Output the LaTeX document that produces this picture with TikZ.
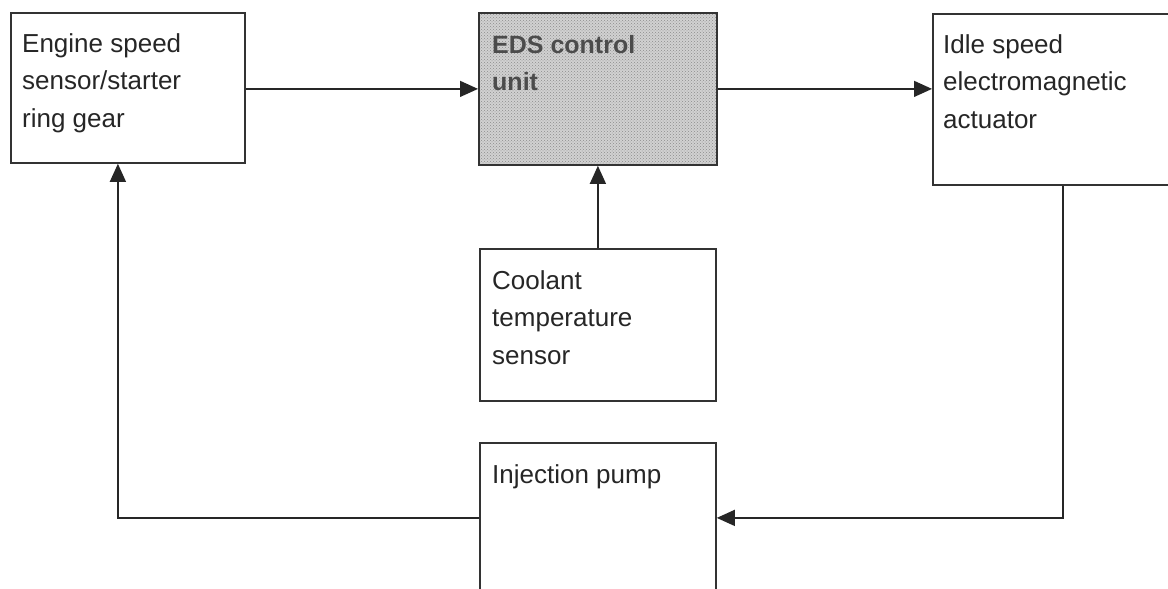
\documentclass[tikz,border=0pt]{standalone}
\usepackage{fontspec}
\setmainfont{Liberation Sans}
\usetikzlibrary{arrows.meta,patterns}
\newcommand\tb[1]{\parbox[t]{230pt}{\raggedright #1}}
\tikzset{
  box/.style={draw=black!80, line width=1.8pt, rectangle, inner sep=0pt, anchor=north west},
  txt/.style={inner sep=0pt, anchor=base west, font=\fontsize{26}{37.5}\selectfont, text=black!85},
  conn/.style={draw=black!85, line width=1.4pt},
  arr/.style={conn, -{Triangle[length=18pt,width=16pt]}}
}
\begin{document}
\begin{tikzpicture}[x=1pt,y=-1pt]
\useasboundingbox (0,0) rectangle (1168,589);
% boxes
\node[box, minimum width=234pt, minimum height=150pt] (eng) at (10,12) {};
\fill[black!18] (478,12) rectangle (716,164);
\fill[pattern=crosshatch dots, pattern color=black!45] (478,12) rectangle (716,164);
\node[box, minimum width=238pt, minimum height=152pt] (eds) at (478,12) {};
\node[box, minimum width=260pt, minimum height=171pt] (idle) at (932,13) {};
\node[box, minimum width=236pt, minimum height=152pt] (cool) at (479,248) {};
\node[box, minimum width=236pt, minimum height=150pt] (inj) at (479,442) {};
% texts
\node[txt] (engt) at (22,52) {\tb{Engine speed\\sensor/starter\\ring gear}};
\node[txt, font=\fontsize{25}{37.5}\selectfont\bfseries, text=black!70] (edst) at (492,53) {\tb{EDS control\\unit}};
\node[txt] (idlet) at (943,53) {\tb{Idle speed\\electromagnetic\\actuator}};
\node[txt] (coolt) at (492,289) {\tb{Coolant\\temperature\\sensor}};
\node[txt] (injt) at (492,483) {\tb{Injection pump}};
% connectors
\coordinate (engin) at ([xshift=-10pt]eng.south);
\draw[arr] ([yshift=-1pt]eng.east) -- ([yshift=-1pt]eng.east -| eds.west);
\draw[arr] (eds.east) -- (eds.east -| idle.west);
\draw[arr] (cool.north) -- (eds.south);
\draw[arr] (idle.south) |- (inj.east);
\draw[arr] (inj.west) -| (engin);
\end{tikzpicture}
\end{document}
